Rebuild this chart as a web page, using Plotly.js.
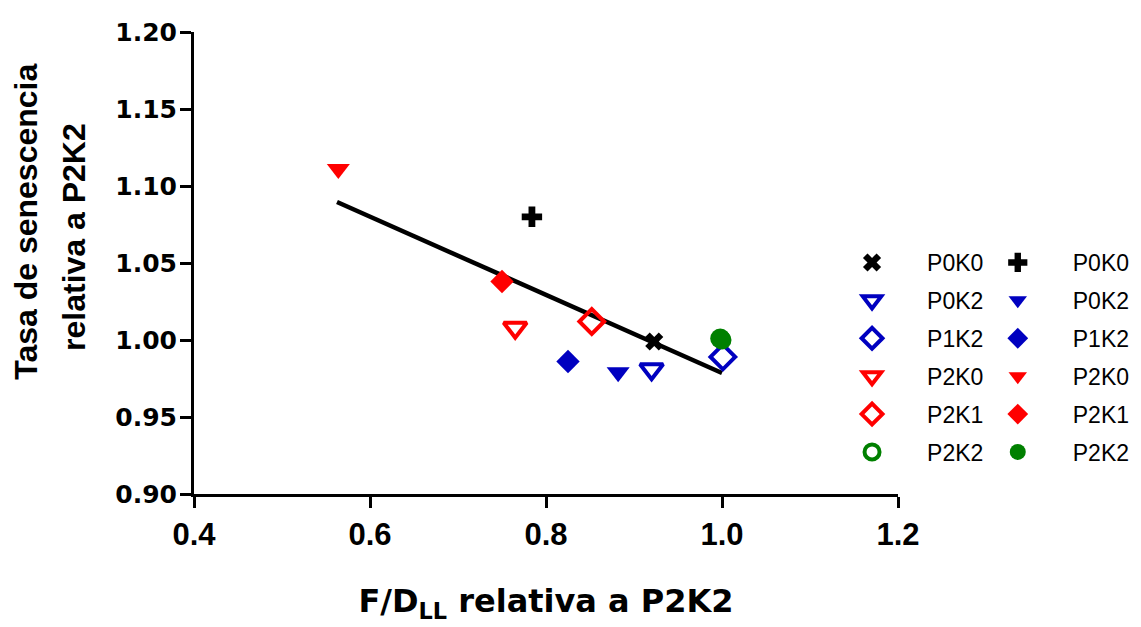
<!DOCTYPE html>
<html>
<head>
<meta charset="utf-8">
<script src="https://cdn.plot.ly/plotly-3.0.1.min.js"></script>
<style>html,body{margin:0;padding:0;background:#fff;}#chart{width:1141px;height:627px;}</style>
</head>
<body>
<div id="chart"></div>
<script>
// Series names
const seriesNames = ["P0K0", "P0K2", "P1K2", "P2K0", "P2K1", "P2K2"];
// Open-symbol series (first legend column)
const openX = [0.923, 0.920, 1.001, 0.765, 0.852, 1.000];
const openY = [0.999, 0.981, 0.989, 1.008, 1.012, 1.000];
// Filled-symbol series (second legend column)
const filledX = [0.784, 0.882, 0.825, 0.564, 0.750, 0.998];
const filledY = [1.080, 0.979, 0.986, 1.111, 1.038, 1.001];
// Regression line end points
const fitX = [0.5625, 1.0];
const fitY = [1.0896, 0.9786];
// Axis title texts
const yTitleLines = ["Tasa de senescencia", "relativa a P2K2"];
const xTitle = "F/D<sub>LL</sub> relativa a P2K2";

const colors = ["#000000", "#0000C0", "#0000C0", "#FF0000", "#FF0000", "#008000"];
const openSymbols = ["x", "triangle-down-open", "diamond-open", "triangle-down-open", "diamond-open", "circle-open"];
const openSizes = [16, 20, 19, 20, 19, 15];
const filledSymbols = ["cross", "triangle-down", "diamond", "triangle-down", "diamond", "circle"];
const filledSizes = [17, 20, 18, 20, 18, 20];

const traces = [{
  x: fitX, y: fitY, mode: "lines", type: "scatter", showlegend: false,
  line: {color: "#000", width: 4.5}, hoverinfo: "skip"
}];
seriesNames.forEach((n, i) => {
  traces.push({
    x: [openX[i]], y: [openY[i]], name: n, type: "scatter", mode: "markers",
    legend: "legend", legendgroup: "o" + i,
    marker: {symbol: openSymbols[i], size: openSizes[i], color: colors[i],
      line: {color: colors[i], width: openSymbols[i] === "x" ? 0 : 4}}
  });
});
seriesNames.forEach((n, i) => {
  traces.push({
    x: [filledX[i]], y: [filledY[i]], name: n, type: "scatter", mode: "markers",
    legend: "legend2", legendgroup: "f" + i,
    marker: {symbol: filledSymbols[i], size: filledSizes[i], color: colors[i], line: {width: 0}}
  });
});

const arial = "Arial, 'Liberation Sans', sans-serif";
const wide = "'DejaVu Sans', Arial, sans-serif";
const legendCommon = {
  font: {family: arial, size: 23, color: "#000"},
  bgcolor: "rgba(0,0,0,0)", borderwidth: 0,
  tracegroupgap: 5, traceorder: "grouped",
  xanchor: "left", yanchor: "top", itemwidth: 100
};

const layout = {
  width: 1141, height: 627,
  margin: {l: 194, r: 243, t: 32, b: 133, autoexpand: false},
  paper_bgcolor: "#fff", plot_bgcolor: "#fff",
  font: {family: arial, color: "#000"},
  xaxis: {
    range: [0.4, 1.2], tickvals: [0.4, 0.6, 0.8, 1.0, 1.2], tickformat: ".1f",
    showgrid: false, zeroline: false, showline: true, linecolor: "#000", linewidth: 3,
    ticks: "outside", ticklen: 11, tickwidth: 3, tickcolor: "#000",
    tickfont: {family: arial, size: 31, color: "#000", weight: "bold"},
    title: {text: "<b>" + xTitle + "</b>", font: {family: wide, size: 32, color: "#000"}, standoff: 39},
    automargin: false
  },
  yaxis: {
    range: [0.9, 1.2], tickvals: [0.90, 0.95, 1.00, 1.05, 1.10, 1.15, 1.20], tickformat: ".2f",
    showgrid: false, zeroline: false, showline: true, linecolor: "#000", linewidth: 3,
    ticks: "outside", ticklen: 11, tickwidth: 3, tickcolor: "#000", ticklabelstandoff: -2,
    tickfont: {family: wide, size: 25, color: "#000", weight: "bold"},
    automargin: false
  },
  annotations: [
    {text: "<b>" + yTitleLines[0] + "</b>", xref: "paper", yref: "paper", x: -0.239, y: 0.5887,
     xanchor: "center", yanchor: "middle", textangle: -90, showarrow: false,
     font: {family: arial, size: 32, color: "#000"}},
    {text: "<b>" + yTitleLines[1] + "</b>", xref: "paper", yref: "paper", x: -0.1705, y: 0.5563,
     xanchor: "center", yanchor: "middle", textangle: -90, showarrow: false,
     font: {family: arial, size: 32, color: "#000"}}
  ],
  legend: Object.assign({}, legendCommon, {x: 0.885, y: 0.5476}),
  legend2: Object.assign({}, legendCommon, {x: 1.092, y: 0.5476}),
  showlegend: true
};

Plotly.newPlot("chart", traces, layout, {displayModeBar: false, staticPlot: true});
</script>
</body>
</html>
